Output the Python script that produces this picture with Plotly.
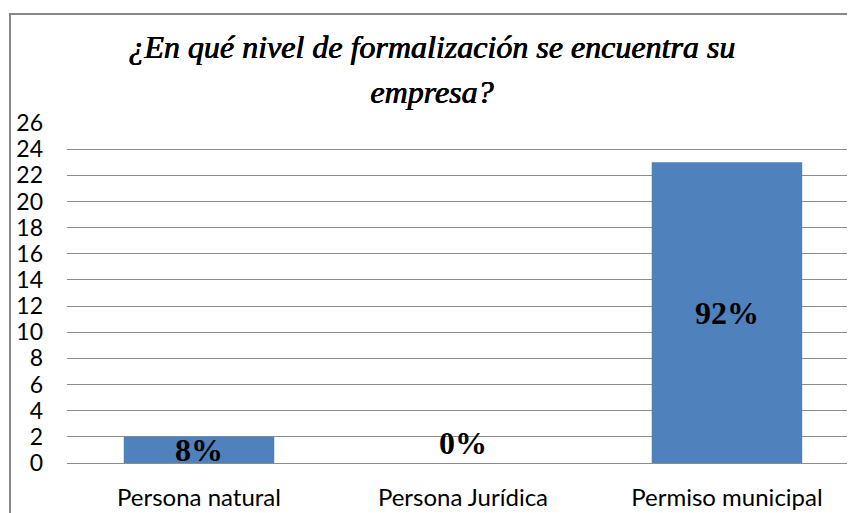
import plotly.graph_objects as go

categories = ["Persona natural", "Persona Jurídica", "Permiso municipal"]
counts = [2, 0, 23]
labels = ["8%", "0%", "92%"]
title_lines = ["¿En qué nivel de formalización se encuentra su", "empresa?"]

BAR = "#4F81BD"
GRID = "#8C8C8C"
SERIF = "Liberation Serif"

# the page body has an 8px margin, so the figure is laid out 8px smaller
W, H = 847, 505
TOP, BOTTOM, LEFT = 115, 455, 59


def main():
    fig = go.Figure()
    fig.add_trace(
        go.Bar(
            x=categories,
            y=counts,
            marker=dict(color=BAR, line=dict(width=0)),
            width=0.57,
            hoverinfo="x+y",
        )
    )

    # data labels, centred in the bar like Excel does
    for cat, v, lab in zip(categories, counts, labels):
        fig.add_annotation(
            x=cat,
            y=v / 2 if v > 0 else 0,
            yanchor="middle" if v > 0 else "bottom",
            text=lab,
            showarrow=False,
            font=dict(family=SERIF, size=32, color="black", weight="bold"),
        )

    # two-line title; the bold italic face falls back to a sans font here,
    # so use the regular italic and thicken it with a text shadow
    plot_h = BOTTOM - TOP
    for line, ypix in zip(title_lines, [39, 84]):
        fig.add_annotation(
            xref="paper",
            yref="paper",
            x=0.463,
            y=(BOTTOM - ypix) / plot_h,
            yanchor="middle",
            text=line,
            showarrow=False,
            font=dict(
                family=SERIF,
                size=32,
                color="black",
                style="italic",
                shadow="0.8px 0px 0px black, 0.4px 0.3px 0px black",
            ),
        )

    # chart area border
    plot_w = W - LEFT
    fig.add_shape(
        type="rect",
        xref="paper",
        yref="paper",
        x0=(2 - LEFT) / plot_w,
        x1=1.05,
        y0=-0.3,
        y1=(BOTTOM - 6) / plot_h,
        line=dict(color="#878787", width=2),
        layer="below",
    )

    fig.update_xaxes(
        range=[-0.5, 2.485],
        showgrid=False,
        showline=False,
        zeroline=False,
        ticks="",
        ticklabelstandoff=18,
        tickfont=dict(family="Lato", size=24, color="black"),
    )
    fig.update_yaxes(
        range=[0, 26],
        dtick=2,
        showgrid=True,
        gridcolor=GRID,
        gridwidth=1,
        zeroline=True,
        zerolinecolor=GRID,
        zerolinewidth=1,
        showline=False,
        ticks="",
        ticklabelstandoff=23,
        tickfont=dict(family="Lato", size=23, color="black"),
    )
    fig.update_layout(
        width=W,
        height=H,
        margin=dict(l=LEFT, r=0, t=TOP, b=H - BOTTOM),
        plot_bgcolor="white",
        paper_bgcolor="white",
        showlegend=False,
        bargap=0.43,
    )
    fig.write_html("out.html")


if __name__ == "__main__":
    main()
